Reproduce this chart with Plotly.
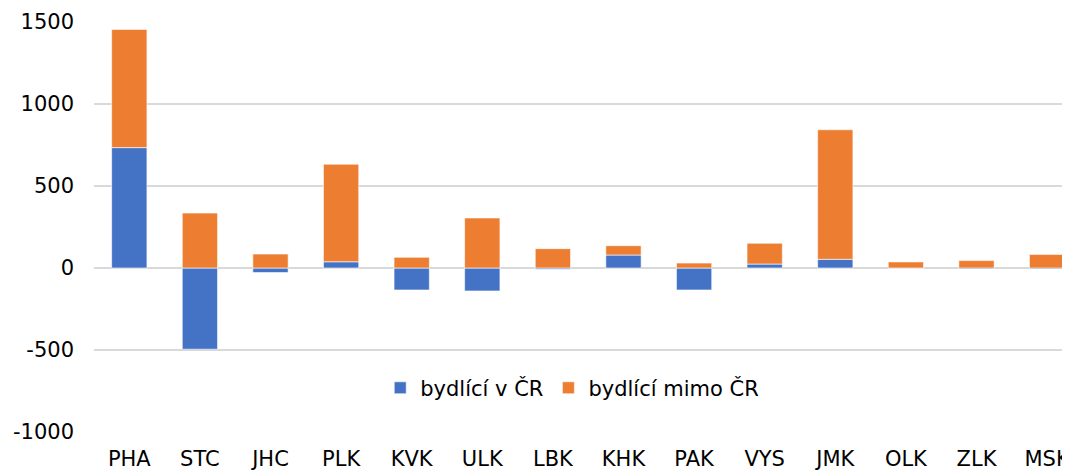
import plotly.graph_objects as go

kraje = ["PHA", "STC", "JHC", "PLK", "KVK", "ULK", "LBK", "KHK", "PAK", "VYS", "JMK", "OLK", "ZLK", "MSK"]
bydlici_v_cr = [734, -495, -28, 38, -134, -140, -8, 79, -134, 24, 53, -3, -6, -6]
bydlici_mimo_cr = [721, 335, 85, 595, 65, 305, 118, 57, 30, 127, 790, 37, 45, 83]
y_ticks = [-1000, -500, 0, 500, 1000, 1500]
y_tick_labels = ["-1000", "-500", "0", "500", "1000", "1500"]

BLUE = "#4472C4"
ORANGE = "#ED7D31"
FONT = "DejaVu Sans"

fig = go.Figure()
fig.add_trace(go.Bar(x=kraje, y=bydlici_v_cr, name="bydlící v ČR",
                     marker=dict(color=BLUE, line=dict(color="rgba(255,255,255,0.6)", width=1))))
fig.add_trace(go.Bar(x=kraje, y=bydlici_mimo_cr, name="bydlící mimo ČR",
                     marker=dict(color=ORANGE, line=dict(color="rgba(255,255,255,0.6)", width=1))))

fig.update_layout(
    width=1070, height=470,
    barmode="relative", bargap=0.5,
    plot_bgcolor="white", paper_bgcolor="white",
    margin=dict(l=86, r=0, t=14, b=46),
    font=dict(family=FONT, size=21, color="#000000"),
    showlegend=True,
    legend=dict(orientation="h", x=0.486, y=0.107, xanchor="center", yanchor="middle",
                font=dict(family=FONT, size=21, color="#000000"),
                bgcolor="rgba(0,0,0,0)", itemwidth=30, traceorder="normal"),
    xaxis=dict(range=[-0.5, 13.438], showgrid=False, zeroline=False, showline=False,
               ticks="", ticklabelstandoff=12, tickfont=dict(family=FONT, size=21)),
    yaxis=dict(range=[-1000, 1500], tickvals=y_ticks, ticktext=y_tick_labels,
               showgrid=True, gridcolor="#D9D9D9", gridwidth=1.5,
               zeroline=True, zerolinecolor="#D9D9D9", zerolinewidth=1.5,
               showline=False, ticks="", ticklabelstandoff=19,
               tickfont=dict(family=FONT, size=21)),
)

fig.write_html("out.html")
